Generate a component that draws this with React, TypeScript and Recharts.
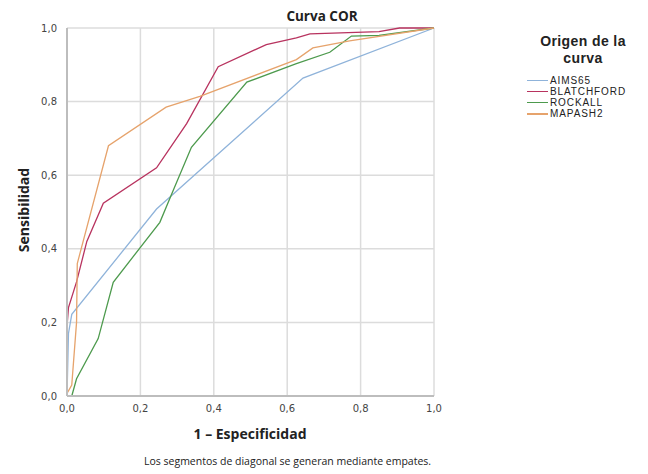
import React from "react";
import { LineChart, Line, XAxis, YAxis, CartesianGrid } from "recharts";

const xTicks = [0, 0.2, 0.4, 0.6, 0.8, 1.0];
const yTicks = [0, 0.2, 0.4, 0.6, 0.8, 1.0];

const aims65 = [
  { x: 0, y: 0 },
  { x: 0.004, y: 0.17 },
  { x: 0.013, y: 0.222 },
  { x: 0.244, y: 0.508 },
  { x: 0.643, y: 0.864 },
  { x: 1, y: 1 },
];

const blatchford = [
  { x: 0, y: 0 },
  { x: 0.0, y: 0.19 },
  { x: 0.004, y: 0.24 },
  { x: 0.026, y: 0.31 },
  { x: 0.054, y: 0.42 },
  { x: 0.099, y: 0.524 },
  { x: 0.244, y: 0.62 },
  { x: 0.326, y: 0.74 },
  { x: 0.412, y: 0.895 },
  { x: 0.543, y: 0.955 },
  { x: 0.625, y: 0.973 },
  { x: 0.662, y: 0.984 },
  { x: 0.85, y: 0.99 },
  { x: 0.906, y: 1.0 },
  { x: 1, y: 1 },
];

const rockall = [
  { x: 0, y: 0 },
  { x: 0.013, y: 0 },
  { x: 0.026, y: 0.047 },
  { x: 0.085, y: 0.156 },
  { x: 0.126, y: 0.309 },
  { x: 0.253, y: 0.472 },
  { x: 0.289, y: 0.558 },
  { x: 0.339, y: 0.676 },
  { x: 0.49, y: 0.853 },
  { x: 0.625, y: 0.903 },
  { x: 0.716, y: 0.934 },
  { x: 0.775, y: 0.978 },
  { x: 0.85, y: 0.98 },
  { x: 1, y: 1 },
];

const mapash2 = [
  { x: 0, y: 0 },
  { x: 0.0, y: 0.007 },
  { x: 0.013, y: 0.03 },
  { x: 0.026, y: 0.2 },
  { x: 0.028, y: 0.36 },
  { x: 0.113, y: 0.68 },
  { x: 0.27, y: 0.785 },
  { x: 0.362, y: 0.814 },
  { x: 0.625, y: 0.914 },
  { x: 0.67, y: 0.946 },
  { x: 0.77, y: 0.965 },
  { x: 1, y: 1 },
];

const seriesNames = ["AIMS65", "BLATCHFORD", "ROCKALL", "MAPASH2"];
const seriesColors = ["#8fb3da", "#b8335f", "#4d9a4d", "#e6a36c"];
const seriesData = [aims65, blatchford, rockall, mapash2];

const fmt = (v: number) => v.toFixed(1).replace(".", ",");

const boldFont = '"Open Sans", "DejaVu Sans", sans-serif';
const compactFont = '"Liberation Sans", Arial, sans-serif';

export default function App() {
  return (
    <div style={{ position: "relative", width: 640, height: 466, fontFamily: boldFont }}>
      <LineChart
        width={640}
        height={466}
        margin={{ top: 20, right: 214, bottom: 58, left: 0 }}
      >
        <CartesianGrid stroke="#dcdcdc" strokeWidth={1.5} horizontal vertical />
        <XAxis
          type="number"
          dataKey="x"
          domain={[0, 1]}
          ticks={xTicks}
          tickFormatter={fmt}
          height={20}
          stroke="#bdbdbd"
          strokeWidth={2}
          tickLine={false}
          tick={{ fill: "#444", fontSize: 10, fontFamily: '"DejaVu Sans", sans-serif' }}
          tickMargin={3}
          allowDuplicatedCategory={false}
        />
        <YAxis
          type="number"
          dataKey="y"
          domain={[0, 1]}
          ticks={yTicks}
          tickFormatter={fmt}
          width={59}
          stroke="#bdbdbd"
          strokeWidth={2}
          tickLine={false}
          tick={{ fill: "#444", fontSize: 10, fontFamily: '"DejaVu Sans", sans-serif' }}
          tickMargin={4}
        />
        {seriesData.map((d, i) => (
          <Line
            key={seriesNames[i]}
            data={d}
            dataKey="y"
            name={seriesNames[i]}
            type="linear"
            stroke={seriesColors[i]}
            strokeWidth={1.3}
            dot={false}
            activeDot={false}
            isAnimationActive={false}
          />
        ))}
      </LineChart>

      <div style={{ position: "absolute", left: 214, top: 0, width: 200, textAlign: "center", fontWeight: 700, fontSize: 13.5, lineHeight: "16px", color: "#222" }}>
        Curva COR
      </div>

      <div style={{ position: "absolute", left: 142, top: 417, width: 200, textAlign: "center", fontWeight: 700, fontSize: 14, lineHeight: "18px", color: "#222" }}>
        1 – Especificidad
      </div>

      <div style={{ position: "absolute", left: 16 - 100, top: 202 - 9, width: 200, height: 18, textAlign: "center", fontWeight: 700, fontSize: 14, lineHeight: "18px", color: "#222", transform: "rotate(-90deg)", transformOrigin: "100px 9px" }}>
        Sensibilidad
      </div>

      <div style={{ position: "absolute", left: 136, top: 446, whiteSpace: "nowrap", fontSize: 10.5, lineHeight: "14px", color: "#222" }}>
        Los segmentos de diagonal se generan mediante empates.
      </div>

      <div style={{ position: "absolute", left: 515, top: 25, width: 120, textAlign: "center", fontWeight: 700, fontSize: 14, lineHeight: "16.5px", color: "#222", fontFamily: compactFont, letterSpacing: 0.4 }}>
        Origen de la
        <br />
        curva
      </div>

      {seriesNames.map((n, i) => (
        <div key={n} style={{ position: "absolute", left: 519, top: 66.5 + i * 11.3, height: 11.3, display: "flex", alignItems: "center", fontSize: 10, lineHeight: "11.3px", color: "#222", whiteSpace: "nowrap", fontFamily: compactFont, letterSpacing: 0.9 }}>
          <span style={{ display: "inline-block", width: 21, height: 1.3, background: seriesColors[i], marginRight: 2 }} />
          {n}
        </div>
      ))}
    </div>
  );
}
